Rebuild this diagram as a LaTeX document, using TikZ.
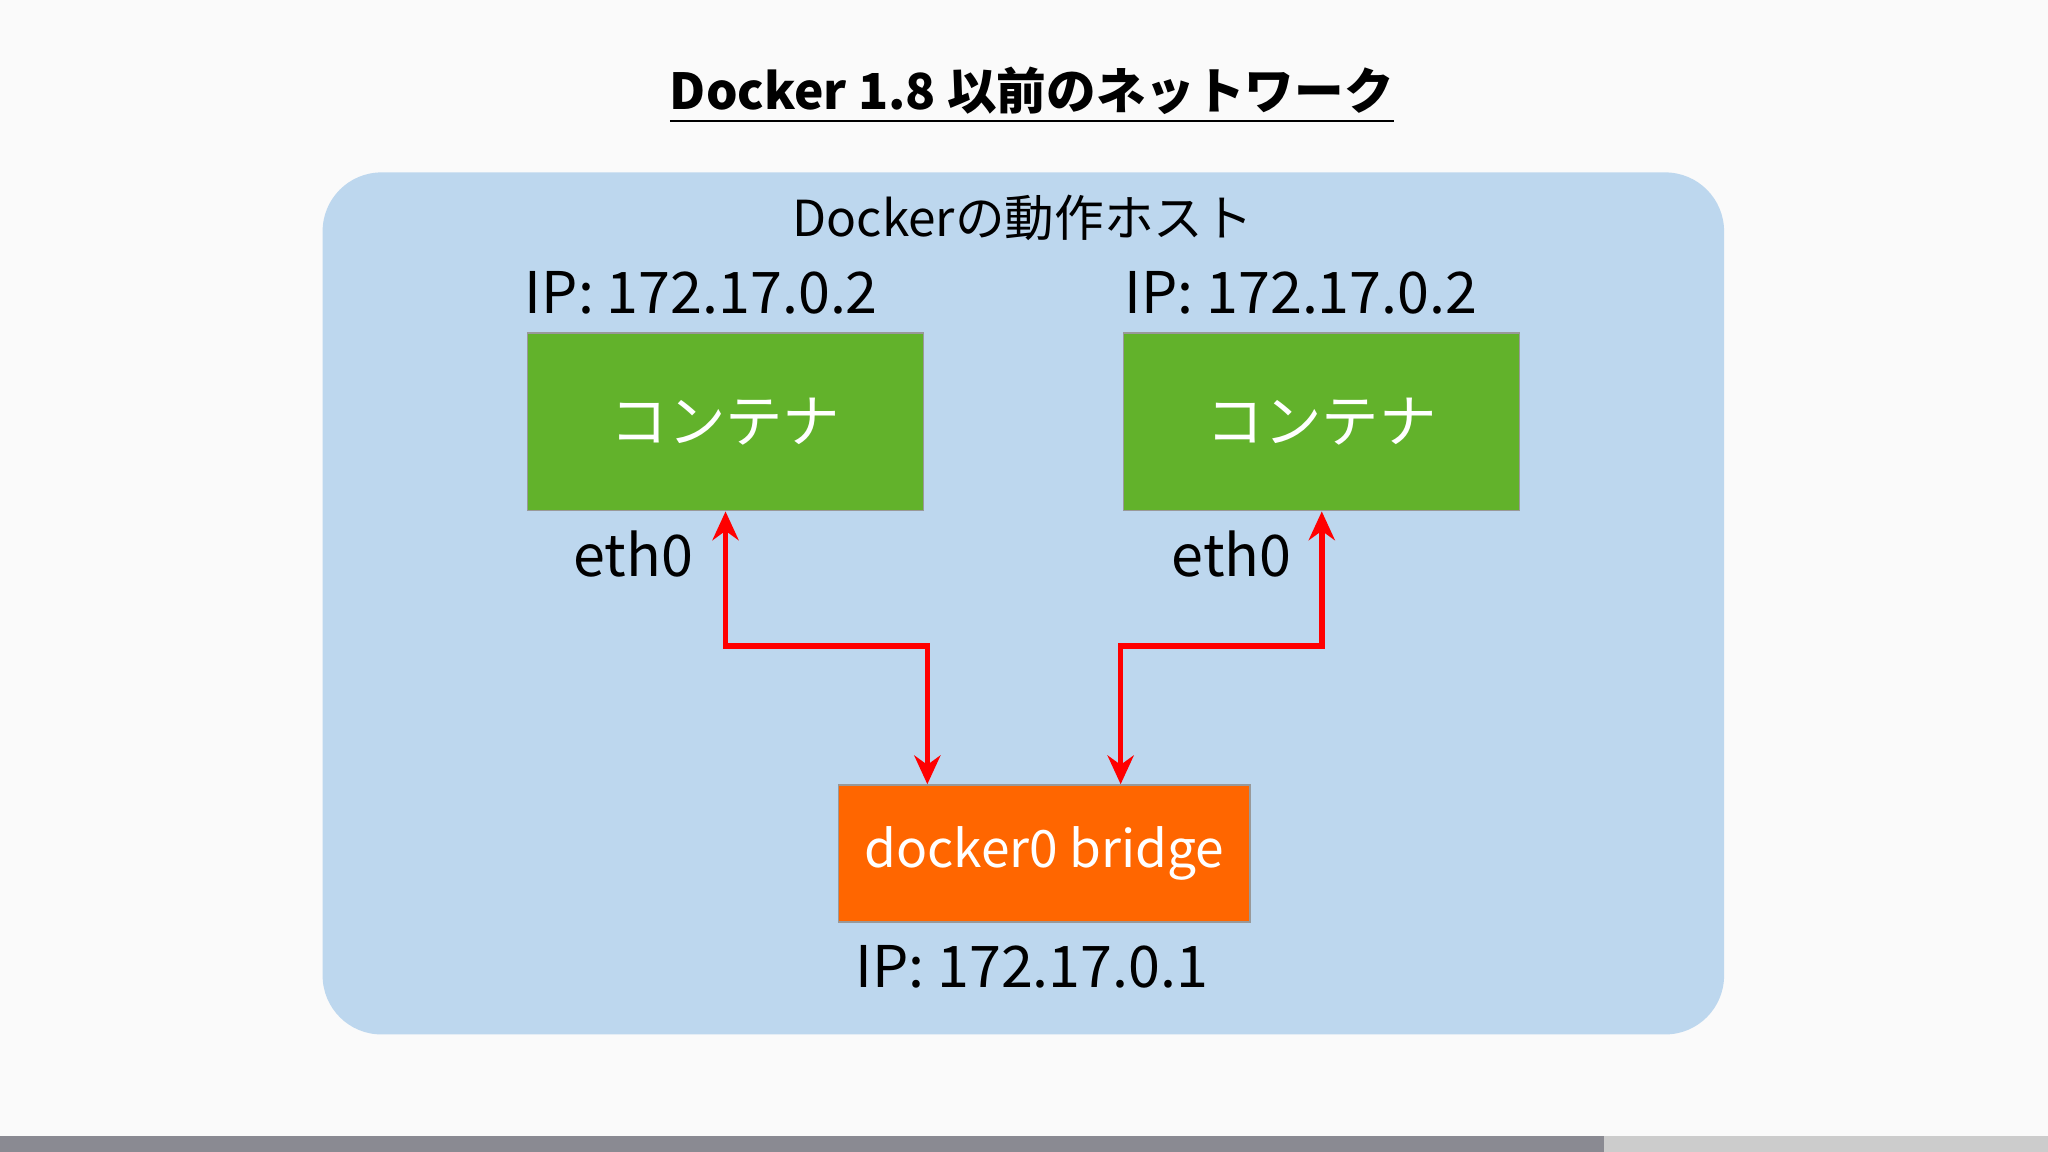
\documentclass[tikz,border=0pt]{standalone}
\usepackage{fontspec}
\setmainfont{Noto Sans CJK JP}
\usetikzlibrary{arrows.meta, calc, positioning}
\tikzset
{
txt/.style={font=\fontsize{12.5}{14}\selectfont, inner sep=0pt},
box/.style={draw=black!40, line width=0.3pt, minimum width=3.03cm, text=white,
	inner sep=0pt, font=\fontsize{12.5}{14}\selectfont},
link/.style={{Stealth[length=2.2mm,width=2mm]}-{Stealth[length=2.2mm,width=2mm]}, draw=red, line width=1.2pt}
}
\definecolor{hostblue}{HTML}{BDD7EE}
\definecolor{ctgreen}{HTML}{62B22B}
\definecolor{brorange}{HTML}{FF6600}
\begin{document}
\begin{tikzpicture}[x=0.01cm, y=-0.01cm]
	\fill[white!98!black] (0,0) rectangle (1568,882);
	\useasboundingbox (0,0) rectangle (1568,882);
	\fill[black!45!blue!10!white!60!black] (0,870) rectangle (1228,882);
	\fill[black!20] (1228,870) rectangle (1568,882);
	% host
	\fill[hostblue, rounded corners=0.45cm] (247,132) rectangle (1320,792);
	\node[font=\fontsize{10.8}{13}\selectfont\bfseries, inner sep=0pt] (title) at (790,73)
		{\underline{Docker 1.8 以前のネットワーク}};
	\node[txt, font=\fontsize{10.8}{13}\selectfont] (host) at (783,167) {Dockerの動作ホスト};
	% containers
	\node[box, fill=ctgreen, minimum height=1.36cm] (c1) at (555.5,323) {コンテナ};
	\node[box, fill=ctgreen, minimum height=1.36cm] (c2) at (1012,323) {コンテナ};
	\node[txt] (ip1) at (537,224) {IP: 172.17.0.2};
	\node[txt] (ip2) at (996,224) {IP: 172.17.0.2};
	\node[txt] (e1) at (485,424) {eth0};
	\node[txt] (e2) at (943,424) {eth0};
	% bridge
	\node[box, fill=brorange, minimum width=3.15cm, minimum height=1.05cm,
		font=\fontsize{11.2}{13}\selectfont] (br) at (799.5,653.5) {docker0 bridge};
	\node[txt] (ip0) at (790,740) {IP: 172.17.0.1};
	% links
	\draw[link] (c1.south) -- ++(0,103) -| ($(br.north)+(-89.5,0)$);
	\draw[link] (c2.south) -- ++(0,103) -| ($(br.north)+(58.5,0)$);
\end{tikzpicture}
\end{document}
